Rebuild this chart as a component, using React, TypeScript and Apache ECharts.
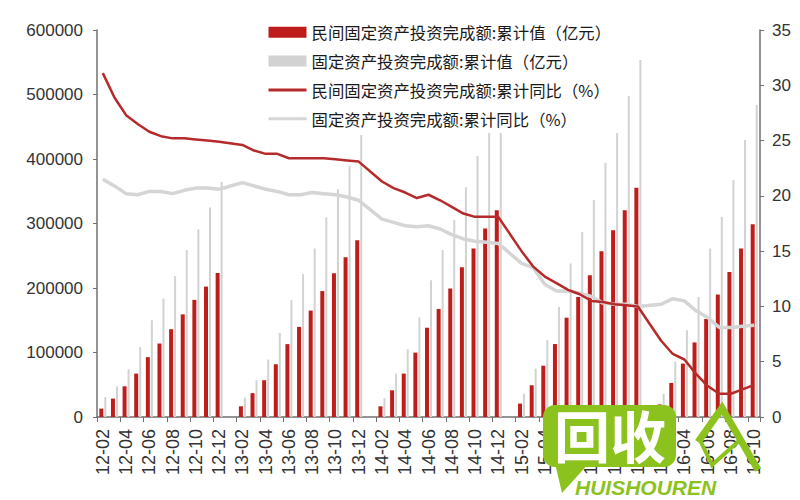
import React, { useEffect, useRef } from "react";
import * as echarts from "echarts";

const categories = [
  "12-02", "12-03", "12-04", "12-05", "12-06", "12-07", "12-08", "12-09", "12-10", "12-11", "12-12",
  "13-01", "13-02", "13-03", "13-04", "13-05", "13-06", "13-07", "13-08", "13-09", "13-10", "13-11", "13-12",
  "14-01", "14-02", "14-03", "14-04", "14-05", "14-06", "14-07", "14-08", "14-09", "14-10", "14-11", "14-12",
  "15-01", "15-02", "15-03", "15-04", "15-05", "15-06", "15-07", "15-08", "15-09", "15-10", "15-11", "15-12",
  "16-01", "16-02", "16-03", "16-04", "16-05", "16-06", "16-07", "16-08", "16-09", "16-10",
];

// 民间固定资产投资完成额:累计值（亿元）
const privateValue = [
  13000, 28500, 47600, 67300, 92800, 113900, 136100, 159100, 181600, 202200, 223400,
  null, 16600, 37000, 57000, 81800, 113000, 139700, 165000, 195200, 223000, 247800, 274200,
  null, 16600, 41400, 67300, 99800, 138400, 167400, 199200, 232200, 261300, 292300, 320700,
  null, 20800, 49200, 79500, 113100, 154000, 186200, 219900, 257000, 289700, 320700, 355300,
  null, 19500, 52800, 82800, 115600, 151900, 189900, 225000, 261300, 299000,
];

// 固定资产投资完成额:累计值（亿元）
const totalValue = [
  31000, 47600, 74000, 108600, 150000, 183700, 218300, 258600, 290700, 324900, 364600,
  null, 30000, 57000, 89000, 130400, 181100, 221400, 261300, 309400, 352800, 389000, 437100,
  null, 29000, 67300, 105000, 154200, 212100, 258600, 305200, 356000, 404500, 455000, 495000,
  null, 36000, 75000, 119000, 170700, 238000, 287000, 336200, 394100, 447500, 497600, 553500,
  null, 36000, 86000, 134500, 186200, 261300, 310300, 367300, 429300, 483600,
];

// 民间固定资产投资完成额:累计同比（%）
const privateYoY = [
  31.1, 28.9, 27.3, 26.5, 25.8, 25.4, 25.2, 25.2, 25.1, 25.0, 24.9,
  null, 24.6, 24.1, 23.8, 23.8, 23.4, 23.4, 23.4, 23.4, 23.3, 23.2, 23.1,
  null, 21.3, 20.7, 20.3, 19.8, 20.1, 19.6, 19.0, 18.4, 18.1, 18.1, 18.1,
  null, 15.0, 13.6, 12.7, 12.1, 11.5, 11.1, 10.5, 10.4, 10.2, 10.1, 10.0,
  null, 6.9, 5.7, 5.2, 3.9, 2.8, 2.1, 2.1, 2.5, 2.9,
];

// 固定资产投资完成额:累计同比（%）
const totalYoY = [
  21.5, 20.9, 20.2, 20.1, 20.4, 20.4, 20.2, 20.5, 20.7, 20.7, 20.6,
  null, 21.2, 20.9, 20.6, 20.4, 20.1, 20.1, 20.3, 20.2, 20.1, 19.9, 19.6,
  null, 17.9, 17.6, 17.3, 17.2, 17.3, 17.0, 16.5, 16.1, 15.9, 15.8, 15.7,
  null, 13.9, 13.5, 12.0, 11.4, 11.4, 11.2, 10.9, 10.3, 10.2, 10.2, 10.0,
  null, 10.2, 10.7, 10.5, 9.6, 9.0, 8.1, 8.1, 8.2, 8.3,
];

const seriesNames = [
  "民间固定资产投资完成额:累计值（亿元）",
  "固定资产投资完成额:累计值（亿元）",
  "民间固定资产投资完成额:累计同比（%）",
  "固定资产投资完成额:累计同比（%）",
];

const RED = "#BE1E1B";
const RED_LINE = "#B52A2A";
const GREY = "#D2D2D2";
const GREY_LINE = "#D5D5D5";
const AXIS = "#707070";
const GREEN = "#8CC21E";

export default function App() {
  const ref = useRef<HTMLDivElement>(null);

  useEffect(() => {
    if (!ref.current) return;
    const chart = echarts.init(ref.current, undefined, { renderer: "svg" });
    const axisCommon = {
      axisLine: { show: true, lineStyle: { color: AXIS, width: 1.5 } },
      axisTick: { show: true, length: 4, lineStyle: { color: AXIS } },
      splitLine: { show: false },
    };
    chart.setOption({
      animation: false,
      backgroundColor: "#ffffff",
      textStyle: { fontFamily: "'Liberation Sans', Arial, sans-serif" },
      grid: { left: 97, right: 40, top: 30, bottom: 83 },
      legend: {
        orient: "vertical",
        left: 257,
        top: 0,
        padding: [24, 12, 6, 10],
        backgroundColor: "#ffffff",
        itemWidth: 38,
        itemHeight: 11,
        itemGap: 12.5,
        textStyle: { fontSize: 16.4, color: "#1a1a1a", fontFamily: "'Noto Sans CJK SC', sans-serif" },
        data: [
          { name: seriesNames[0], icon: "rect" },
          { name: seriesNames[1], icon: "rect" },
          { name: seriesNames[2], itemStyle: { opacity: 0 }, lineStyle: { width: 3 } },
          { name: seriesNames[3], itemStyle: { opacity: 0 }, lineStyle: { width: 3 } },
        ],
      },
      xAxis: {
        type: "category",
        data: categories,
        boundaryGap: true,
        axisLine: { show: true, lineStyle: { color: AXIS, width: 1.5 } },
        axisTick: { show: true, interval: 1, length: 5, lineStyle: { color: AXIS } },
        axisLabel: { interval: 1, rotate: 90, fontSize: 18, color: "#333", margin: 12 },
      },
      yAxis: [
        {
          type: "value",
          position: "left",
          min: 0,
          max: 600000,
          interval: 100000,
          ...axisCommon,
          axisLabel: { fontSize: 17, color: "#333", margin: 14, formatter: (v: number) => String(v) },
        },
        {
          type: "value",
          position: "right",
          min: 0,
          max: 35,
          interval: 5,
          ...axisCommon,
          axisLabel: { fontSize: 17, color: "#333", margin: 12, formatter: (v: number) => String(v) },
        },
      ],
      series: [
        {
          name: seriesNames[0],
          type: "bar",
          data: privateValue,
          barWidth: 4,
          barGap: "25%",
          itemStyle: { color: RED },
          z: 2,
        },
        {
          name: seriesNames[1],
          type: "bar",
          data: totalValue,
          barWidth: 2,
          itemStyle: { color: GREY },
          z: 1,
        },
        {
          name: seriesNames[2],
          type: "line",
          yAxisIndex: 1,
          data: privateYoY,
          symbol: "none",
          connectNulls: true,
          lineStyle: { color: RED_LINE, width: 2.5 },
          itemStyle: { color: RED_LINE },
          z: 5,
        },
        {
          name: seriesNames[3],
          type: "line",
          yAxisIndex: 1,
          data: totalYoY,
          symbol: "none",
          connectNulls: true,
          lineStyle: { color: GREY_LINE, width: 3.5 },
          itemStyle: { color: GREY_LINE },
          z: 4,
        },
      ],
      graphic: [
        {
          type: "rect",
          z: 100,
          shape: { x: 543, y: 405, width: 133, height: 62, r: 12 },
          style: { fill: GREEN },
        },
        {
          type: "polygon",
          z: 100,
          shape: { points: [[553, 455], [562, 493], [590, 462]] },
          style: { fill: GREEN },
        },
        {
          type: "text",
          z: 101,
          x: 554,
          y: 405,
          style: {
            text: "回收",
            fill: "#ffffff",
            fontSize: 56,
            fontWeight: "bold",
            fontFamily: "'Noto Sans CJK SC', sans-serif",
          },
        },
        {
          type: "polyline",
          z: 100,
          shape: { points: [[698, 442], [722, 408], [758, 470]] },
          style: { stroke: GREEN, lineWidth: 7, fill: "none" },
        },
        {
          type: "polyline",
          z: 100,
          shape: { points: [[700, 440], [712, 465], [740, 440]] },
          style: { stroke: GREEN, lineWidth: 4, fill: "none" },
        },
        {
          type: "text",
          z: 101,
          x: 575,
          y: 477,
          style: {
            text: "HUISHOUREN",
            fill: GREEN,
            fontSize: 21,
            fontStyle: "italic",
            fontWeight: "bold",
            fontFamily: "'Liberation Sans', Arial, sans-serif",
          },
        },
      ],
    });
    return () => chart.dispose();
  }, []);

  return (
    <div
      ref={ref}
      style={{ position: "fixed", left: 0, top: 0, width: 800, height: 500, background: "#fff" }}
    />
  );
}
